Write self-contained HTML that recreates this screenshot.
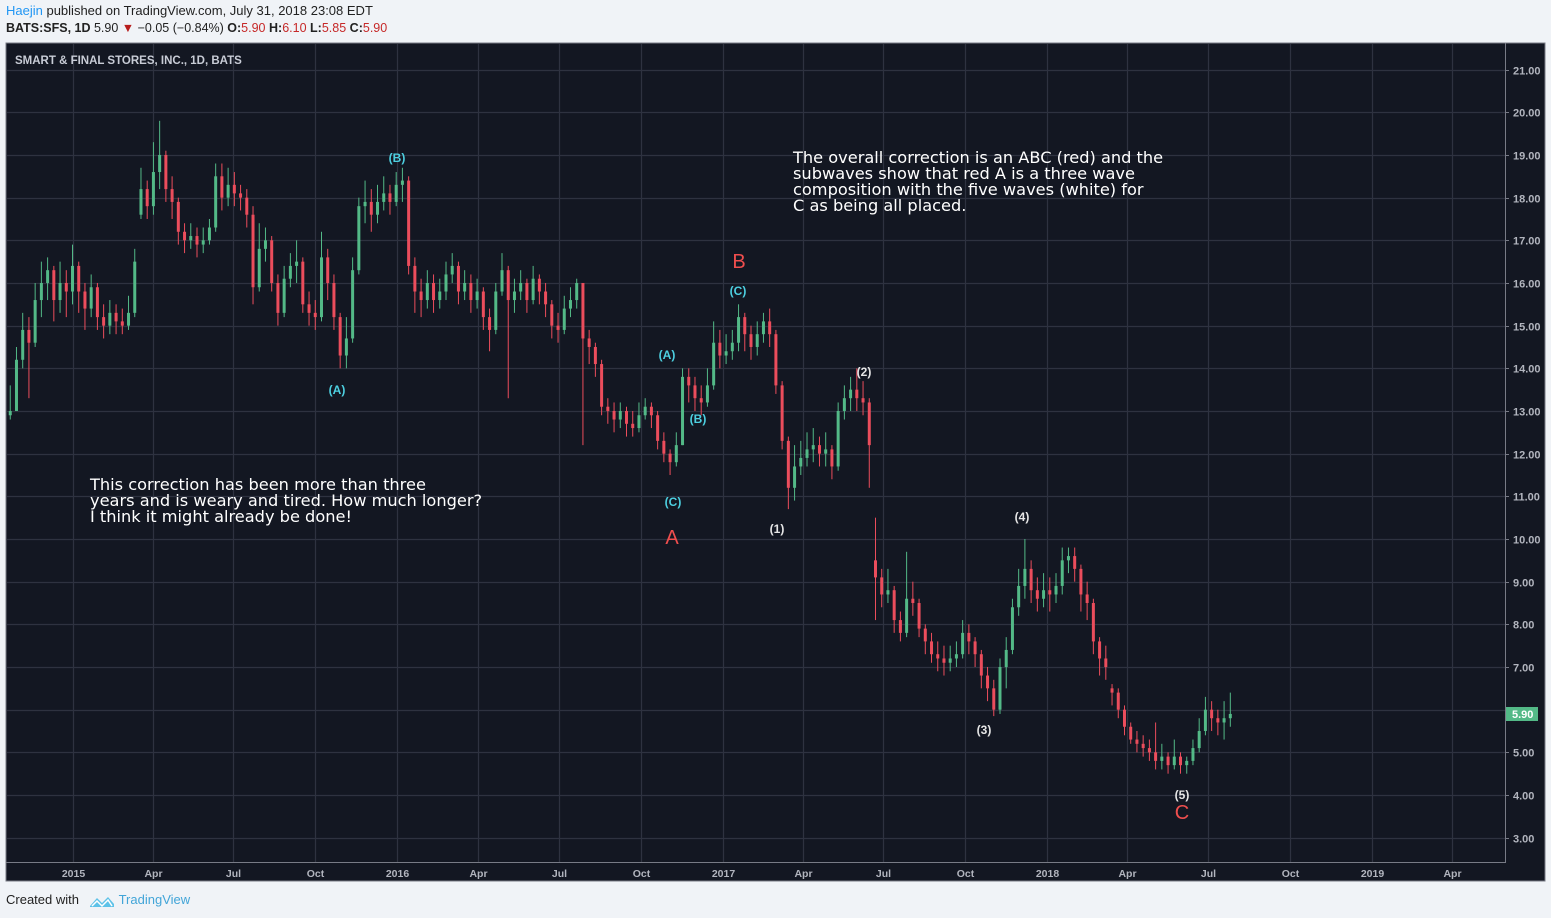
<!DOCTYPE html>
<html><head><meta charset="utf-8">
<style>
body{margin:0;width:1551px;height:918px;background:#f0f3f7;font-family:"Liberation Sans",sans-serif;overflow:hidden;position:relative}
.hdr{position:absolute;left:6px;font-size:13px;color:#222}
svg{position:absolute;left:0;top:0}
</style></head><body>
<div class="hdr" style="top:3px"><span style="color:#2196f3">Haejin</span> published on TradingView.com, July 31, 2018 23:08 EDT</div>
<div class="hdr" style="top:21px;font-size:12.5px"><b>BATS:SFS, 1D</b> 5.90 <span style="color:#b71c1c">▼</span> −0.05 (−0.84%) <b>O:</b><span style="color:#c62828">5.90</span> <b>H:</b><span style="color:#c62828">6.10</span> <b>L:</b><span style="color:#c62828">5.85</span> <b>C:</b><span style="color:#c62828">5.90</span></div>
<div class="hdr" style="top:892px">Created with
<svg style="position:relative;left:auto;top:auto;vertical-align:middle;margin:0 4px 0 6px" width="26" height="14" viewBox="0 0 26 14"><path d="M1 12 L8 4 L13 9 L19 3 L25 10 L25 13 L1 13Z" fill="#5ec2e8"/><path d="M3 12 L8 7 L13 12 L19 6 L23 12" fill="none" stroke="#fff" stroke-width="1.5"/></svg><span style="color:#42a5d8">TradingView</span></div>
<svg id="chart" width="1551" height="918"></svg>
<script>
const opens=[12.9,13.0,14.2,14.9,14.6,15.6,16.0,16.3,15.6,16.0,15.8,16.4,15.8,15.4,15.9,15.2,15.0,15.3,15.1,15.0,15.3,17.6,18.2,17.8,18.6,19.0,18.2,17.9,17.2,17.0,17.1,16.9,17.0,17.3,18.5,18.0,18.3,18.1,18.0,17.6,15.9,16.8,17.0,16.0,15.3,16.1,16.4,16.5,15.5,15.3,15.2,16.6,16.0,15.2,14.3,14.7,16.3,17.8,17.9,17.6,17.9,18.1,17.9,18.3,18.4,16.4,15.8,15.6,16.0,15.6,15.8,16.2,16.4,15.8,16.0,15.6,15.8,15.2,14.9,15.8,16.3,15.6,15.8,16.0,15.6,16.1,15.8,15.5,15.0,14.9,15.4,15.6,16.0,14.7,14.5,14.1,13.1,13.0,12.8,13.0,12.7,12.6,12.9,13.1,12.9,12.3,12.0,11.8,12.2,13.8,13.6,13.3,13.2,13.6,14.6,14.3,14.4,14.6,15.2,14.8,14.5,14.8,15.1,14.8,13.6,12.3,11.2,11.7,11.9,12.1,12.2,12.0,12.1,11.7,13.0,13.3,13.5,13.3,13.2,9.5,9.1,8.7,8.8,8.1,7.8,8.6,8.5,7.9,7.6,7.3,7.2,7.1,7.2,7.3,7.8,7.6,7.3,6.8,6.5,6.0,7.0,7.4,8.4,8.9,9.3,8.8,8.6,8.8,8.7,8.9,9.5,9.6,9.3,8.7,8.5,7.6,7.2,6.5,6.4,6.0,5.6,5.3,5.2,5.1,5.0,4.8,4.9,4.7,4.9,4.7,4.8,5.1,5.5,6.0,5.8,5.7,5.8];
const closes=[13.0,14.2,14.9,14.6,15.6,16.0,16.3,15.6,16.0,15.8,16.4,15.8,15.4,15.9,15.2,15.0,15.3,15.1,15.0,15.3,16.5,18.2,17.8,18.6,19.0,18.2,17.9,17.2,17.0,17.1,16.9,17.0,17.3,18.5,18.0,18.3,18.1,18.0,17.6,15.9,16.8,17.0,16.0,15.3,16.1,16.4,16.5,15.5,15.3,15.2,16.6,16.0,15.2,14.3,14.7,16.3,17.8,17.9,17.6,17.9,18.1,17.9,18.3,18.4,16.4,15.8,15.6,16.0,15.6,15.8,16.2,16.4,15.8,16.0,15.6,15.8,15.2,14.9,15.8,16.3,15.6,15.8,16.0,15.6,16.1,15.8,15.5,15.0,14.9,15.4,15.6,16.0,14.7,14.5,14.1,13.1,13.0,12.8,13.0,12.7,12.6,12.9,13.1,12.9,12.3,12.0,11.8,12.2,13.8,13.6,13.3,13.2,13.6,14.6,14.3,14.4,14.6,15.2,14.8,14.5,14.8,15.1,14.8,13.6,12.3,11.2,11.7,11.9,12.1,12.2,12.0,12.1,11.7,13.0,13.3,13.5,13.3,13.2,12.2,9.1,8.7,8.8,8.1,7.8,8.6,8.5,7.9,7.6,7.3,7.2,7.1,7.2,7.3,7.8,7.6,7.3,6.8,6.5,6.0,7.0,7.4,8.4,8.9,9.3,8.8,8.6,8.8,8.7,8.9,9.5,9.6,9.3,8.7,8.5,7.6,7.2,7.0,6.4,6.0,5.6,5.3,5.2,5.1,5.0,4.8,4.9,4.7,4.9,4.7,4.8,5.1,5.5,6.0,5.8,5.7,5.8,5.9];
const highs=[13.6,14.5,15.3,15.2,16.0,16.5,16.6,16.4,16.5,16.3,16.9,16.5,16.0,16.2,16.0,15.5,15.6,15.5,15.4,15.7,16.8,18.7,18.4,19.3,19.8,19.1,18.5,18.0,17.4,17.4,17.3,17.3,17.5,18.8,18.8,18.7,18.6,18.3,18.2,17.8,17.4,17.3,17.1,16.2,16.4,16.7,17.0,16.6,15.8,15.6,17.2,16.8,16.2,15.3,15.2,16.6,18.0,18.4,18.2,18.3,18.5,18.3,18.6,18.7,18.5,16.6,16.1,16.3,16.2,16.1,16.5,16.7,16.5,16.3,16.2,16.1,15.9,15.4,16.0,16.7,16.4,16.1,16.3,16.1,16.4,16.2,16.0,15.6,15.3,15.7,15.9,16.1,16.0,14.9,14.6,14.2,13.3,13.2,13.2,13.1,13.0,13.2,13.3,13.2,13.0,12.5,12.1,12.5,14.0,14.0,13.8,13.6,14.0,15.1,14.9,14.8,14.9,15.5,15.3,15.0,15.1,15.3,15.4,14.9,13.7,12.4,12.2,12.3,12.5,12.6,12.4,12.5,12.2,13.2,13.6,13.8,14.0,13.7,13.3,10.5,9.3,9.3,8.9,8.3,9.7,9.0,8.6,8.0,7.8,7.6,7.5,7.5,7.6,8.1,8.0,7.7,7.4,7.0,6.7,7.2,7.7,8.6,9.3,10.0,9.5,9.1,9.2,9.1,9.2,9.8,9.8,9.8,9.4,9.0,8.6,7.7,7.5,6.6,6.5,6.1,5.7,5.5,5.4,5.3,5.7,5.2,5.0,5.3,5.0,4.9,5.3,5.8,6.3,6.2,6.0,6.2,6.4];
const lows=[12.8,13.0,14.0,13.3,14.5,15.2,15.6,15.1,15.3,15.2,15.5,15.3,14.9,15.2,14.9,14.7,14.8,14.8,14.8,14.9,15.2,17.5,17.5,17.6,18.2,17.9,17.5,16.9,16.7,16.8,16.6,16.7,16.9,17.2,17.7,17.8,17.8,17.7,17.3,15.5,15.8,16.5,15.8,15.0,15.2,15.9,16.0,15.3,15.0,14.9,15.1,15.6,14.9,14.0,14.0,14.6,16.2,17.4,17.2,17.4,17.7,17.6,17.8,17.9,16.2,15.3,15.2,15.4,15.3,15.4,15.6,16.0,15.5,15.6,15.3,15.4,14.9,14.4,14.8,15.7,13.3,15.3,15.6,15.3,15.5,15.5,15.2,14.7,14.6,14.8,15.2,15.4,12.2,14.1,13.8,12.9,12.7,12.5,12.6,12.4,12.4,12.5,12.8,12.6,12.1,11.8,11.5,11.7,12.2,13.2,13.0,12.9,13.1,13.5,14.0,14.1,14.2,14.4,14.4,14.2,14.3,14.6,14.5,13.4,12.1,10.7,10.9,11.5,11.7,11.8,11.7,11.7,11.4,11.6,12.8,13.0,13.0,12.9,11.2,8.1,8.4,8.5,7.8,7.6,7.7,8.2,7.7,7.3,7.1,6.9,6.8,6.9,7.0,7.2,7.3,7.0,6.5,6.2,5.85,5.9,6.5,7.3,8.2,8.6,8.5,8.3,8.4,8.3,8.5,8.7,9.2,9.0,8.3,8.1,7.3,6.8,6.7,6.1,5.8,5.4,5.2,5.0,4.9,4.8,4.6,4.6,4.5,4.6,4.5,4.5,4.7,5.0,5.4,5.5,5.4,5.3,5.6];
const priceTicks=[3,4,5,6,7,8,9,10,11,12,13,14,15,16,17,18,19,20,21];
const timeTickDates=["2015-01-01","2015-04-01","2015-07-01","2015-10-01","2016-01-01","2016-04-01","2016-07-01","2016-10-01","2017-01-01","2017-04-01","2017-07-01","2017-10-01","2018-01-01","2018-04-01","2018-07-01","2018-10-01","2019-01-01","2019-04-01"];
const timeTickLabels=["2015","Apr","Jul","Oct","2016","Apr","Jul","Oct","2017","Apr","Jul","Oct","2018","Apr","Jul","Oct","2019","Apr"];
const startDate="2014-10-23";
const lastPrice=5.90;

const NS="http://www.w3.org/2000/svg";
const svg=document.getElementById('chart');
const D0=Date.parse("2015-01-01");
function xDate(ms){return 72.5+(ms-D0)/86400000/365.25*324.8;}
function xBar(i){return xDate(Date.parse(startDate)+i*7*86400000);}
function yP(p){return 112.3+(20-p)*42.67;}
function el(tag,attrs,parent){const e=document.createElementNS(NS,tag);for(const k in attrs)e.setAttribute(k,attrs[k]);(parent||svg).appendChild(e);return e;}

const bg=el('rect',{x:6,y:43,width:1539,height:838,fill:'#131722',stroke:'#787b86','stroke-width':1});


const grid=el('g',{});


priceTicks.forEach(p=>{
  const y=Math.round(yP(p))+0.5;
  const l=el('line',{x1:7,x2:1505,y1:y,y2:y,stroke:'#2e3240','stroke-width':1.2},grid);
  
  
  const tk=el('line',{x1:1505,x2:1509,y1:y,y2:y,stroke:'#787b86'});
  
  
  const t=el('text',{x:1513,y:y+4,fill:'#b2b5be','font-size':11,'font-weight':'bold','font-family':'Liberation Sans, sans-serif'});
  t.textContent=p.toFixed(2);
  
  
});
timeTickDates.forEach((d,k)=>{
  const x=Math.round(xDate(Date.parse(d)))+0.5;
  const l=el('line',{x1:x,x2:x,y1:44,y2:862,stroke:'#2e3240','stroke-width':1.2},grid);
  
  
  const t=el('text',{x:x,y:877,fill:'#b2b5be','font-size':10.5,'font-weight':'bold','text-anchor':'middle','font-family':'Liberation Sans, sans-serif'});
  t.textContent=timeTickLabels[k];
  
  
});
const ax1=el('line',{x1:1505.5,x2:1505.5,y1:43,y2:862,stroke:'#787b86'});


const ax2=el('line',{x1:6,x2:1506,y1:862.5,y2:862.5,stroke:'#787b86'});



const cg=el('g',{});


closes.forEach((c,i)=>{
  const o=opens[i],x=xBar(i);
  const col=c>=o?'#53b987':'#eb4d5c';
  const g=el('g',{},cg);
  
  
  el('line',{x1:x,x2:x,y1:yP(highs[i]),y2:yP(lows[i]),stroke:col,'stroke-width':1},g);
  const top=yP(Math.max(o,c)),bot=yP(Math.min(o,c));
  el('rect',{x:x-1.5,y:top,width:3,height:Math.max(1,bot-top),fill:col},g);
});

const ty=Math.round(yP(lastPrice));
const tag=el('rect',{x:1506,y:ty-7,width:32,height:14,fill:'#53b987'});


const tt=el('text',{x:1512,y:ty+4,fill:'#fff','font-size':11,'font-weight':'bold','font-family':'Liberation Sans, sans-serif'});
tt.textContent=lastPrice.toFixed(2);



const title=el('text',{x:15,y:64,fill:'#c8ccd6','font-size':11.5,'font-weight':'bold','font-family':'Liberation Sans, sans-serif'});
title.textContent='SMART & FINAL STORES, INC., 1D, BATS';



function label(txt,x,y,col,size,name,bold){
  const t=el('text',{x:x,y:y,fill:col,'font-size':size,'text-anchor':'middle','font-weight':bold?'bold':'normal','font-family':'Liberation Sans, sans-serif'});
  t.textContent=txt;
  
  
}
const cy='#4dd0e1',wh='#e6e6e6',rd='#ef4e4e';
label('(B)',397,162,cy,12,'wave-label-b',true);
label('(A)',337,394,cy,12,'wave-label-a',true);
label('(A)',667,359,cy,12,'wave-label-a2',true);
label('(B)',698,423,cy,12,'wave-label-b2',true);
label('(C)',673,506,cy,12,'wave-label-c',true);
label('(C)',738,295,cy,12,'wave-label-c2',true);
label('B',739,268,rd,20,'wave-label-red-b',false);
label('A',672,544,rd,20,'wave-label-red-a',false);
label('C',1182,819,rd,20,'wave-label-red-c',false);
label('(1)',777,533,wh,12,'wave-label-1',true);
label('(2)',864,376,wh,12,'wave-label-2',true);
label('(3)',984,734,wh,12,'wave-label-3',true);
label('(4)',1022,521,wh,12,'wave-label-4',true);
label('(5)',1182,799,wh,12,'wave-label-5',true);

function note(lines,x,y,name){
  const t=el('text',{x:x,y:y,fill:'#ffffff','font-size':16.2,'font-family':'DejaVu Sans, sans-serif'});
  
  
  lines.forEach((s,k)=>{const sp=el('tspan',{x:x,dy:k?16:0},t);sp.textContent=s;});
}
note(['The overall correction is an ABC (red) and the','subwaves show that red A is a three wave','composition with the five waves (white) for','C as being all placed.'],793,163,'annotation-note-top');
note(['This correction has been more than three','years and is weary and tired. How much longer?','I think it might already be done!'],90,490,'annotation-note-left');
</script>
</body></html>
